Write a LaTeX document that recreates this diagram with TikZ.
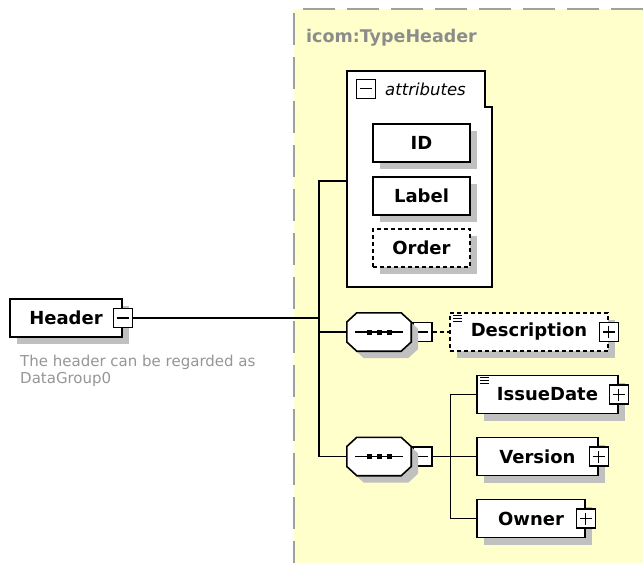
\documentclass[tikz,border=0pt]{standalone}
\usepackage{fontspec}
\setmainfont{DejaVu Sans}
\usetikzlibrary{positioning,shadows,calc}

\definecolor{typeyellow}{RGB}{255,255,204}
\definecolor{shadowgray}{RGB}{192,192,192}
\definecolor{bordergray}{RGB}{160,160,160}
\definecolor{titlegray}{RGB}{140,140,140}
\definecolor{docgray}{RGB}{150,150,150}

\tikzstyle{boxshadow} = [drop shadow={shadow xshift=7pt, shadow yshift=-7pt, fill=shadowgray, opacity=1}]
\tikzstyle{elem} = [draw, line width=1.5pt, fill=white, boxshadow, minimum height=38pt, inner sep=0pt, font=\fontsize{18}{21}\selectfont\bfseries]
\tikzstyle{optelem} = [elem, dash pattern=on 4pt off 3pt]
\tikzstyle{pmbox} = [draw, line width=1.3pt, fill=white, minimum size=19pt, inner sep=0pt]
\tikzstyle{minusbox} = [pmbox, path picture={\draw[line width=1.3pt] ([xshift=-6pt]path picture bounding box.center) -- ([xshift=6pt]path picture bounding box.center);}]
\tikzstyle{plusbox} = [pmbox, path picture={\draw[line width=1.3pt] ([xshift=-6pt]path picture bounding box.center) -- ([xshift=6pt]path picture bounding box.center) ([yshift=-6pt]path picture bounding box.center) -- ([yshift=6pt]path picture bounding box.center);}]
\tikzstyle{seqbox} = [minimum width=64pt, minimum height=38pt, inner sep=0pt]
\tikzstyle{link} = [line width=1.6pt]
\tikzstyle{doctext} = [text=docgray, font=\fontsize{15}{17}\selectfont, align=left, inner sep=0pt]

\newcommand{\octpath}[1]{($(#1.west)+(0,-10)$) -- ($(#1.north west)+(10,0)$) -- ($(#1.north east)+(-10,0)$) -- ($(#1.east)+(0,-10)$) -- ($(#1.east)+(0,10)$) -- ($(#1.south east)+(-10,0)$) -- ($(#1.south west)+(10,0)$) -- ($(#1.west)+(0,10)$) -- cycle}

\begin{document}
\begin{tikzpicture}[x=1pt, y=-1pt]
\useasboundingbox (0,0) rectangle (643,563);
\fill[white] (0,0) rectangle (643,563);

% complex type area
\fill[typeyellow] (294,9) rectangle (643,563);
\draw[bordergray, line width=2pt, dash pattern=on 32pt off 12pt] (303,9) -- (643,9);
\draw[bordergray, line width=2pt, dash pattern=on 32pt off 12pt] (294,13) -- (294,563);
\node[anchor=base west, text=titlegray, font=\fontsize{17.5}{20}\selectfont\bfseries, inner sep=0pt] (typename) at (306,42) {icom:TypeHeader};

% root element
\node[elem, minimum width=112pt] (hdr) at (66,318) {Header};
\node[minusbox] (hdrpm) at (hdr.east) {};
\node[doctext, anchor=north west] (hdrdoc) at (20,354.5) {The header can be regarded as\\DataGroup0};

% attributes
\node[minimum width=145pt, minimum height=216pt, inner sep=0pt] (attr) at (419.5,179) {};
\draw[line width=1.5pt, fill=white] (attr.north west) -- ($(attr.north east)+(-7,0)$) -- ($(attr.north east)+(-7,36)$) -- ($(attr.north east)+(0,36)$) -- (attr.south east) -- (attr.south west) -- cycle;
\node[minusbox] (attrpm) at ($(attr.north west)+(19,18)$) {};
\node[anchor=base west, font=\fontsize{16.5}{19}\selectfont\itshape, inner sep=0pt] (attrtitle) at (385,95) {attributes};
\node[elem, minimum width=97pt] (id) at (421.5,143) {ID};
\node[elem, minimum width=97pt, below=13.5pt of id] (label) {Label};
\node[optelem, minimum width=97pt, below=12.5pt of label] (order) {Order};

% sequences
\node[seqbox] (seq1) at (379,332) {};
\node[minusbox, anchor=west] (seq1pm) at ([xshift=1pt]seq1.east) {};
\node[seqbox] (seq2) at (379,456.5) {};
\node[minusbox, anchor=west] (seq2pm) at ([xshift=1pt]seq2.east) {};

% child elements
\node[optelem, minimum width=158pt] (desc) at (529,332) {Description};
\node[plusbox] (descpm) at (desc.east) {};
\node[elem, minimum width=141pt] (issue) at (547.5,394.5) {IssueDate};
\node[plusbox] (issuepm) at (issue.east) {};
\node[elem, minimum width=121pt, below=22.5pt of issue.south west, anchor=north west] (version) {Version};
\node[plusbox] (versionpm) at (version.east) {};
\node[elem, minimum width=108pt, below=22.5pt of version.south west, anchor=north west] (owner) {Owner};
\node[plusbox] (ownerpm) at (owner.east) {};

% connectors
\coordinate (trunk) at (319,318);
\coordinate (attrjoin) at ($(attr.north west)+(0,110)$);
\coordinate (fork) at ($(seq2pm.east)+(18,0)$);
\draw[link] (hdrpm) -- (trunk);
\draw[link] (attrjoin) -| (trunk) |- (seq2.west);
\draw[link] (seq1.west) -- (seq1.west -| trunk);
\draw[link, dash pattern=on 4pt off 3pt] (seq1pm) -- (desc);
\draw[link] (seq2pm) -- (version);
\draw[link] (issue.west) -| (fork) |- (owner.west);

% sequence symbols
\foreach \s in {seq1,seq2} {
  \fill[shadowgray, transform canvas={shift={(7,7)}}] \octpath{\s};
  \draw[link, fill=white] \octpath{\s};
  \draw[line width=1.4pt] ($(\s.center)+(-24,0)$) -- ($(\s.center)+(24,0)$);
  \foreach \d in {-10,0,10}
    \fill ($(\s.center)+(\d-2.5,-2.5)$) rectangle +(5,5);
}

% simple content marks
\foreach \el in {desc,issue}
  \foreach \dy in {3,6,9}
    \draw[line width=1pt] ($(\el.north west)+(4,\dy)$) -- +(9,0);

\end{tikzpicture}
\end{document}
